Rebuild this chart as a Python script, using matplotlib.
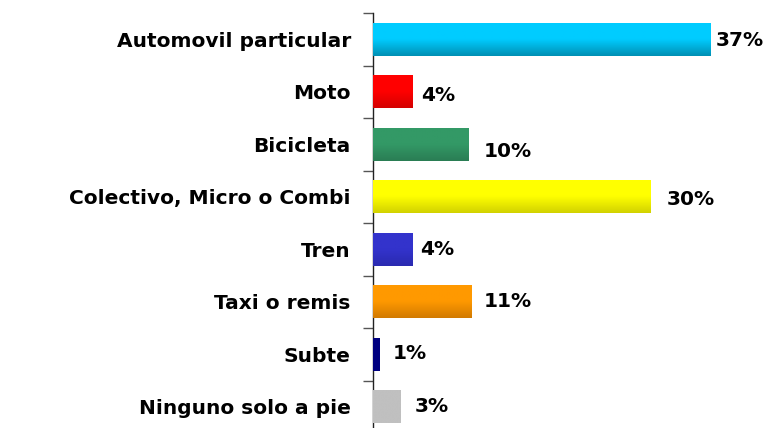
import numpy as np
import matplotlib
matplotlib.use("Agg")
import matplotlib.pyplot as plt
from matplotlib.colors import LinearSegmentedColormap

categories = ["Automovil particular", "Moto", "Bicicleta", "Colectivo, Micro o Combi",
              "Tren", "Taxi o remis", "Subte", "Ninguno solo a pie"]
values = [36.3, 4.2, 10.3, 29.8, 4.2, 10.6, 0.75, 3.0]
value_labels = ["37%", "4%", "10%", "30%", "4%", "11%", "1%", "3%"]
top_colors = ["#00CCFF", "#FF0000", "#339966", "#FFFF00", "#3333CC", "#FF9900", "#000080", "#C0C0C0"]
bottom_colors = ["#0090B4", "#D40000", "#2A7D54", "#D2D200", "#2A2AB0", "#D27A00", "#000080", "#C0C0C0"]
# label offsets in pixels (dx, dy downward)
label_offsets = [(5, 1), (9, 4), (15, 7), (17, 3), (8, 0), (12, 0), (13, -1), (14, 0)]

W, H = 769, 428
fig = plt.figure(figsize=(W / 100, H / 100), dpi=100)
ax = fig.add_axes([373 / W, (428 - 433) / H, 396 / W, 420 / H])

y = np.arange(len(categories))
bars = ax.barh(y, values, height=0.63, color=top_colors, edgecolor="none", zorder=2)

for bar, c1, c2 in zip(bars, top_colors, bottom_colors):
    x0, y0 = bar.get_x(), bar.get_y()
    w, h = bar.get_width(), bar.get_height()
    cmap = LinearSegmentedColormap.from_list("g", [c1, c1, c2])
    grad = np.linspace(0, 1, 64).reshape(-1, 1)
    im = ax.imshow(grad, cmap=cmap, aspect="auto", extent=(x0, x0 + w, y0 + h, y0),
                   origin="upper", zorder=3, interpolation="bilinear")
    im.set_clip_path(bar)

ax.set_xlim(0, 396 / 9.3)
ax.set_ylim(len(categories) - 0.5, -0.5)

for i, (v, lab, (dx, dy)) in enumerate(zip(values, value_labels, label_offsets)):
    ax.annotate(lab, xy=(v, i), xytext=(dx * 0.72, -dy * 0.72), textcoords="offset points",
                ha="left", va="center", fontsize=14.5, fontweight="bold",
                family="DejaVu Sans", color="#000000", zorder=4)

ax.set_yticks(y)
ax.set_yticklabels(categories, fontsize=14.5, fontweight="bold", family="DejaVu Sans", color="#000000")
ax.tick_params(axis="y", which="major", length=0, pad=16)
ax.set_yticks(np.arange(-0.5, len(categories) + 0.5, 1), minor=True)
ax.tick_params(axis="y", which="minor", length=7, width=1, color="#555555", direction="out")
ax.set_xticks([])
for s in ["top", "right", "bottom"]:
    ax.spines[s].set_visible(False)
ax.spines["left"].set_color("#222222")
ax.spines["left"].set_linewidth(1)
ax.patch.set_alpha(0)

fig.savefig("out.png", dpi=100)
